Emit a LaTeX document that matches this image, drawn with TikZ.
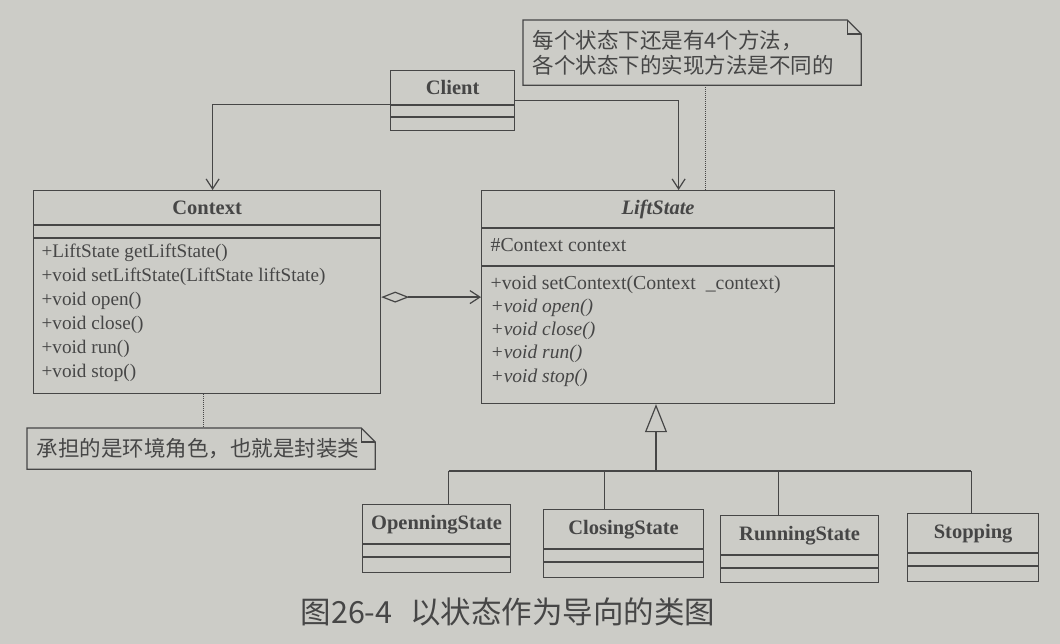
\documentclass[tikz,border=0pt]{standalone}
\usepackage{fontspec}
\setmainfont{Liberation Serif}
\newfontfamily\cjk{Noto Sans CJK SC}
\usetikzlibrary{arrows.meta,calc}
\definecolor{paper}{RGB}{204,204,199}
\definecolor{ink}{RGB}{70,70,70}

% class box with two compartment separators (offsets from the top edge)
\newcommand\umlclass[7]{%
  \node[classbox, minimum width=#4, minimum height=#5] (#1) at (#2,#3) {};
  \draw[ink] ($(#1.north west)+(0,#6)$) -- ($(#1.north east)+(0,#6)$);
  \draw[ink] ($(#1.north west)+(0,#7)$) -- ($(#1.north east)+(0,#7)$);
}
% note outline with a folded top-right corner
\newcommand\notefold[2]{%
  \draw[ink] (#1.north west) -- ($(#1.north east)+(-#2,0)$) -- ($(#1.north east)+(0,#2)$)
    -- (#1.south east) -- (#1.south west) -- cycle;
  \draw[ink] ($(#1.north east)+(-#2,0)$) -- ($(#1.north east)+(-#2,#2)$) -- ($(#1.north east)+(0,#2)$);
}

\begin{document}
\begin{tikzpicture}[x=1pt,y=-1pt,line width=1.2pt,
  classbox/.style={draw=ink, rectangle, inner sep=0pt, anchor=north west},
  cname/.style={font=\bfseries\fontsize{20.5}{24}\selectfont, text=ink, inner sep=0pt},
  member/.style={font=\fontsize{19.2}{23}\selectfont, text=ink, anchor=west, inner sep=0pt},
  imember/.style={member, font=\itshape\fontsize{19.5}{23}\selectfont},
  notebody/.style={rectangle, inner xsep=9pt, inner ysep=0pt, anchor=north west, align=left,
    font=\cjk\fontsize{21.5}{24.5}\selectfont, text=ink},
  assoc/.style={draw=ink, -{Straight Barb[length=10pt,width=13pt]}},
  agg/.style={draw=ink, {Diamond[open,length=28pt,width=11pt]}-{Straight Barb[length=10pt,width=13pt]}},
  gen/.style={draw=ink, -{Triangle[open,length=28pt,width=22pt]}},
  dots/.style={draw=ink, densely dotted, line width=1pt}]

% paper
\fill[paper] (0,0) rectangle (1060,644);
\useasboundingbox (0,0) rectangle (1060,644);

% classes
\umlclass{client}{390}{70}{124}{60}{35}{47}
\node[cname] at ($(client.north)+(0,17)$) {Client};

\umlclass{context}{33}{190}{347}{203}{35}{48}
\node[cname] at ($(context.north)+(0,18)$) {Context};
\node[member] at ($(context.north west)+(8,63)$) {+LiftState getLiftState()};
\node[member] at ($(context.north west)+(8,87)$) {+void setLiftState(LiftState liftState)};
\node[member] at ($(context.north west)+(8,111)$) {+void open()};
\node[member] at ($(context.north west)+(8,135)$) {+void close()};
\node[member] at ($(context.north west)+(8,159)$) {+void run()};
\node[member] at ($(context.north west)+(8,183)$) {+void stop()};

\umlclass{lift}{481}{190}{353}{213}{38}{76}
\node[cname, font=\bfseries\itshape\fontsize{20.5}{24}\selectfont] at ($(lift.north)+(0,19)$) {LiftState};
\node[member, font=\fontsize{19.8}{23}\selectfont] at ($(lift.north west)+(9,55)$) {\#Context context};
\node[member, font=\fontsize{19.8}{23}\selectfont] at ($(lift.north west)+(9,95)$) {+void setContext(Context \ \_context)};
\node[imember] at ($(lift.north west)+(9,118)$) {+void open()};
\node[imember] at ($(lift.north west)+(9,141)$) {+void close()};
\node[imember] at ($(lift.north west)+(9,164)$) {+void run()};
\node[imember] at ($(lift.north west)+(9,188)$) {+void stop()};

\umlclass{open}{362}{504}{148}{68}{40}{53}
\node[cname] at ($(open.north)+(0,21)$) {OpenningState};
\umlclass{closing}{543}{509}{160}{68}{40}{53}
\node[cname] at ($(closing.north)+(0,21)$) {ClosingState};
\umlclass{running}{720}{515}{158}{67}{40}{53}
\node[cname] at ($(running.north)+(0,21)$) {RunningState};
\umlclass{stopping}{907}{513}{131}{68}{40}{53}
\node[cname] at ($(stopping.north)+(0,21)$) {Stopping};

% notes
\node[notebody, text width=319pt, minimum height=64pt] (note1) at (523,20)
  {每个状态下还是有4个方法，\\各个状态下的实现方法是不同的};
\notefold{note1}{14}
\node[notebody, text width=329pt, minimum height=40pt] (note2) at (27,428)
  {承担的是环境角色，也就是封装类};
\notefold{note2}{14}

\draw[dots] ($(note1.south)+(13.5,0)$) -- ($(lift.north)+(47.5,0)$);
\draw[dots] ($(context.south)+(-4,0)$) -- ($(note2.north)+(2,0)$);

% associations
\draw[assoc] ($(client.west)+(0,4)$) -| ($(context.north)+(5.5,0)$);
\draw[assoc] (client.east) -| ($(lift.north)+(20.5,0)$);
\draw[agg] (context.east |- lift.west) -- (lift.west);

% generalisation tree
\coordinate (fork) at (656,471);
\coordinate (oa) at ($(open.north)+(12,0)$);
\coordinate (ca) at ($(closing.north)+(-19,0)$);
\coordinate (ra) at ($(running.north)+(-21,0)$);
\coordinate (sa) at ($(stopping.north)+(-2,0)$);
\draw[gen] (fork) -- (fork |- lift.south);
\draw[ink] (oa |- fork) -- (sa |- fork);
\draw[ink] (oa) -- (oa |- fork);
\draw[ink] (ca) -- (ca |- fork);
\draw[ink] (ra) -- (ra |- fork);
\draw[ink] (sa) -- (sa |- fork);

% caption
\node[font=\cjk\fontsize{30.5}{34}\selectfont, text=ink, anchor=west, inner sep=0pt] (caption) at (300,612)
  {图26-4\hspace{18pt}以状态作为导向的类图};
\end{tikzpicture}
\end{document}
